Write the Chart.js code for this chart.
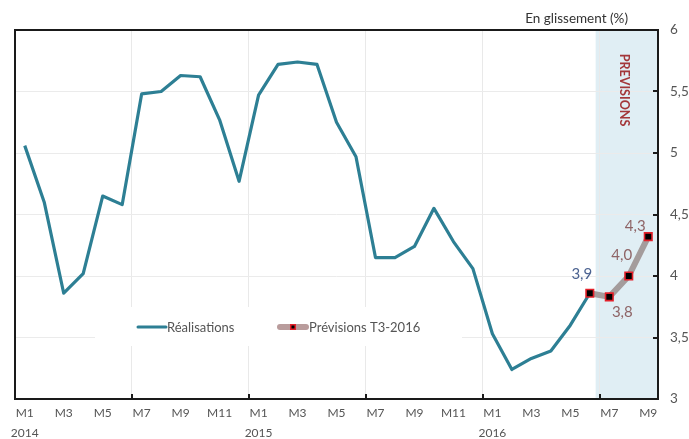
<!DOCTYPE html>
<html lang="fr">
<head>
<meta charset="utf-8">
<script src="https://cdn.jsdelivr.net/npm/chart.js@4/dist/chart.umd.min.js"></script>
<style>
  html, body { margin: 0; padding: 0; background: #ffffff; }
  #wrap { width: 689px; height: 439px; }
</style>
</head>
<body>
<div id="wrap"><canvas id="chart" width="689" height="439"></canvas></div>
<script>
// Monthly categories, January 2014 to September 2016
const categories = [
  'M1','M2','M3','M4','M5','M6','M7','M8','M9','M10','M11','M12',
  'M1','M2','M3','M4','M5','M6','M7','M8','M9','M10','M11','M12',
  'M1','M2','M3','M4','M5','M6','M7','M8','M9'
];
const yearStarts = ['2014', '2015', '2016'];

// Year-on-year change (%), observed
const realisations = [
  5.06, 4.60, 3.86, 4.02, 4.65, 4.58, 5.48, 5.50, 5.63, 5.62, 5.27, 4.77,
  5.47, 5.72, 5.74, 5.72, 5.25, 4.97, 4.15, 4.15, 4.24, 4.55, 4.28, 4.06,
  3.53, 3.24, 3.33, 3.39, 3.60, 3.86, null, null, null
];

// Q3-2016 forecast path, starting from the last observed month
const previsions = [
  null, null, null, null, null, null, null, null, null, null, null, null,
  null, null, null, null, null, null, null, null, null, null, null, null,
  null, null, null, null, null, 3.86, 3.83, 4.00, 4.32
];

// Right-axis bounds and step
const yMin = 3, yMax = 6, yStep = 0.5;

// Start of the shaded forecast window (category index, fractional)
const forecastStart = 29.3;

const FONT = 'Lato, "Open Sans", sans-serif';
const fmt = v => v.toFixed(1).replace('.', ',');

const decorPlugin = {
  id: 'decor',
  beforeDraw(chart) {
    const { ctx, chartArea: a, scales: { x } } = chart;
    ctx.save();
    ctx.fillStyle = '#ffffff';
    ctx.fillRect(0, 0, chart.width, chart.height);
    // forecast window
    const x0 = x.getPixelForValue(forecastStart);
    ctx.fillStyle = '#e0eef4';
    ctx.fillRect(x0, a.top, a.right - x0, a.bottom - a.top);
    ctx.restore();
  },
  beforeDatasetsDraw(chart) {
    const { ctx } = chart;
    const ds = chart.data.datasets;
    ctx.save();
    // legend panel
    ctx.fillStyle = '#ffffff';
    ctx.fillRect(95, 307, 367, 39);
    ctx.font = '13px ' + FONT;
    ctx.textBaseline = 'middle';
    ctx.fillStyle = '#555555';
    const ly = 327;
    // observed series sample
    ctx.strokeStyle = ds[1].borderColor;
    ctx.lineWidth = 3;
    ctx.lineCap = 'round';
    ctx.beginPath(); ctx.moveTo(138, ly); ctx.lineTo(166, ly); ctx.stroke();
    ctx.fillText(ds[1].label, 167, ly + 1);
    // forecast series sample
    ctx.strokeStyle = '#b99c9c';
    ctx.lineWidth = 6;
    ctx.beginPath(); ctx.moveTo(280, ly); ctx.lineTo(306, ly); ctx.stroke();
    ctx.fillStyle = '#e3202a';
    ctx.fillRect(290, ly - 3, 6, 6);
    ctx.fillStyle = '#000000';
    ctx.fillRect(291.5, ly - 1.5, 3, 3);
    ctx.fillStyle = '#555555';
    ctx.fillText(ds[0].label, 309, ly + 1);
    ctx.restore();
  },
  afterDatasetsDraw(chart) {
    const { ctx, chartArea: a, scales: { x, y } } = chart;
    ctx.save();
    // value labels
    ctx.font = '15px ' + FONT;
    ctx.textAlign = 'center';
    ctx.textBaseline = 'middle';
    const mReal = chart.getDatasetMeta(1);
    const lastIdx = realisations.length - 1 - [...realisations].reverse().findIndex(v => v !== null);
    const pr = mReal.data[lastIdx];
    ctx.fillStyle = '#4b6290';
    ctx.fillText(fmt(realisations[lastIdx]), pr.x - 8, pr.y - 19);
    const mPrev = chart.getDatasetMeta(0);
    const offs = { 30: [13, 15], 31: [-7, -21], 32: [-13, -10] };
    ctx.fillStyle = '#8e6466';
    Object.keys(offs).forEach(k => {
      const i = +k, p = mPrev.data[i];
      ctx.fillText(fmt(previsions[i]), p.x + offs[k][0], p.y + offs[k][1]);
    });
    // frame
    ctx.strokeStyle = '#1a1a1a';
    ctx.lineWidth = 2;
    ctx.strokeRect(a.left, a.top, a.right - a.left, a.bottom - a.top);
    // inward tick marks
    ctx.lineWidth = 2;
    ctx.beginPath();
    for (let v = yMin + yStep; v < yMax; v += yStep) {
      const py = Math.round(y.getPixelForValue(v));
      ctx.moveTo(a.right, py); ctx.lineTo(a.right - 5, py);
    }
    for (let i = 6; i < categories.length; i += 6) {
      const px = Math.round(x.getPixelForValue(i - 0.5));
      ctx.moveTo(px, a.bottom); ctx.lineTo(px, a.bottom - 5);
    }
    ctx.stroke();
    // window caption
    ctx.translate(x.getPixelForValue(30.75), a.top + 60);
    ctx.rotate(Math.PI / 2);
    ctx.font = 'bold 12.5px ' + FONT;
    ctx.fillStyle = '#a3373a';
    ctx.textAlign = 'center';
    ctx.textBaseline = 'middle';
    ctx.fillText('PREVISIONS', 0, 0);
    ctx.restore();
    // unit caption
    ctx.save();
    ctx.font = '13.5px ' + FONT;
    ctx.fillStyle = '#333333';
    ctx.textAlign = 'right';
    ctx.textBaseline = 'alphabetic';
    ctx.fillText('En glissement (%)', 628, 23);
    ctx.restore();
  }
};

new Chart(document.getElementById('chart'), {
  type: 'line',
  data: {
    labels: categories,
    datasets: [
      {
        label: 'Prévisions T3-2016',
        data: previsions,
        order: 0,
        borderColor: '#a49c9c',
        borderWidth: 6,
        borderCapStyle: 'round',
        borderJoinStyle: 'round',
        pointStyle: 'rect',
        pointRadius: 5.3,
        pointBackgroundColor: '#000000',
        pointBorderColor: '#e3202a',
        pointBorderWidth: 1.6,
        tension: 0,
        spanGaps: false
      },
      {
        label: 'Réalisations',
        data: realisations,
        order: 1,
        borderColor: '#2d7f94',
        borderWidth: 3.2,
        borderJoinStyle: 'round',
        pointRadius: 0,
        tension: 0
      }
    ]
  },
  options: {
    responsive: false,
    devicePixelRatio: 1,
    animation: false,
    layout: { padding: { left: 15, top: 30, right: 0, bottom: 0 } },
    plugins: { legend: { display: false }, tooltip: { enabled: false } },
    scales: {
      x: {
        type: 'category',
        offset: true,
        border: { display: false },
        grid: {
          offset: true,
          drawTicks: false,
          lineWidth: 1,
          color: c => (c.index > 0 && c.index % 6 === 0) ? '#e9e9e9' : 'rgba(0,0,0,0)'
        },
        ticks: {
          autoSkip: false,
          maxRotation: 0,
          minRotation: 0,
          padding: 4,
          color: '#555555',
          font: { family: FONT, size: 12, lineHeight: 1.65 },
          callback: (v, i) => {
            if (i % 2) return '';
            return i % 12 === 0 ? [categories[i], yearStarts[i / 12]] : categories[i];
          }
        },
        afterFit: s => { s.height = 40; }
      },
      y: {
        position: 'right',
        min: yMin,
        max: yMax,
        border: { display: false },
        grid: { drawTicks: false, color: '#ebebeb', lineWidth: 1 },
        ticks: {
          stepSize: yStep,
          padding: 12,
          color: '#555555',
          font: { family: FONT, size: 13.5 },
          callback: v => String(v).replace('.', ',')
        },
        afterFit: s => { s.width = 31; }
      }
    }
  },
  plugins: [decorPlugin]
});
</script>
</body>
</html>
